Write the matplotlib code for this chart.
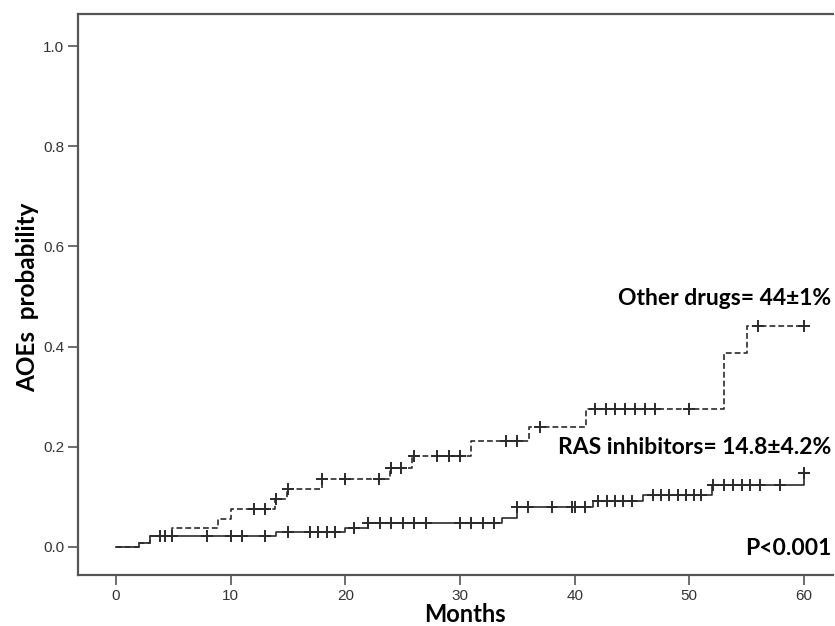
import numpy as np
import matplotlib
matplotlib.use("Agg")
import matplotlib.pyplot as plt

# ---- data ----
# RAS inhibitors (solid): step times and cumulative probability after each step
ras_times = [0, 2, 3, 14, 20, 22, 33.7, 35, 41.6, 46, 52, 60]
ras_prob  = [0.0, 0.007, 0.022, 0.030, 0.038, 0.048, 0.058, 0.080, 0.092, 0.104, 0.124, 0.148]
ras_censor = [3.8, 4.3, 4.9, 7.9, 10, 11, 13, 15, 16.9, 17.6, 18.4, 19.1, 20.8,
              22, 23, 24, 25, 26, 27, 30, 31, 32, 33, 35, 35.9, 38, 39.8, 40, 40.9,
              42, 42.8, 43.5, 44.2, 45, 46.8, 47.5, 48.2, 49, 49.7, 50.4, 51,
              52.1, 53, 53.8, 54.6, 55.3, 56.2, 57.9, 60]

# Other drugs (dashed)
oth_times = [0, 2, 3, 4.9, 8.9, 10, 13.9, 14.9, 18, 23.9, 25.8, 31, 36, 41, 53, 55, 60]
oth_prob  = [0.0, 0.007, 0.022, 0.038, 0.056, 0.076, 0.096, 0.116, 0.136, 0.158,
             0.182, 0.211, 0.240, 0.275, 0.387, 0.441, 0.441]
oth_censor = [12, 13, 14, 15, 18, 20, 22.9, 24, 24.9, 26, 28, 29, 30, 34, 35, 37,
              41.8, 42.7, 43.5, 44.4, 45.3, 46.1, 47, 50, 56, 60]

xticks = [0, 10, 20, 30, 40, 50, 60]
yticks = [0.0, 0.2, 0.4, 0.6, 0.8, 1.0]

label_other = "Other drugs= 44\u00b11%"
label_ras = "RAS inhibitors= 14.8\u00b14.2%"
label_p = "P<0.001"


def step_value(times, probs, t):
    idx = np.searchsorted(times, t, side="right") - 1
    return np.asarray(probs)[idx]


fig = plt.figure(figsize=(8.35, 6.26), dpi=100)
ax = fig.add_axes([78 / 835, 51 / 626, 755 / 835, 561 / 626])

lc = "#2b2b2b"
ax.step(ras_times, ras_prob, where="post", color=lc, lw=1.2)
ax.step(oth_times, oth_prob, where="post", color=lc, lw=1.2, dashes=(3.5, 1.8))

ax.plot(ras_censor, step_value(ras_times, ras_prob, ras_censor), ls="none",
        marker="+", ms=9, mew=1.4, color=lc)
ax.plot(oth_censor, step_value(oth_times, oth_prob, oth_censor), ls="none",
        marker="+", ms=9, mew=1.4, color=lc)

ax.set_xlim(-3.31, 62.53)
ax.set_ylim(-0.056, 1.064)
ax.set_xticks(xticks)
ax.set_xticklabels([str(v) for v in xticks])
ax.set_yticks(yticks)
ax.set_yticklabels([f"{v:.1f}" for v in yticks])

for s in ["left", "bottom", "top"]:
    ax.spines[s].set_color("#555555")
    ax.spines[s].set_linewidth(1.6)
ax.spines["right"].set_visible(False)
ax.tick_params(direction="out", length=7, width=1.2, color="#555555",
               labelsize=11, labelcolor="#333333", pad=3)
for lab in ax.get_xticklabels() + ax.get_yticklabels():
    lab.set_family("Liberation Sans")

tf = dict(family="Lato", weight="bold", color="black")
ax.set_xlabel("Months", fontsize=17, **tf)
ax.set_ylabel("AOEs  probability", fontsize=17.5, **tf)
ax.xaxis.set_label_coords((465 - 78) / 755, (575 - 603) / 561)
ax.yaxis.set_label_coords((39 - 78) / 755, (575 - 297) / 561)

ax.text(62.4, 0.497, label_other, ha="right", va="center", fontsize=16.5, **tf)
ax.text(62.4, 0.198, label_ras, ha="right", va="center", fontsize=16.5, **tf)
ax.text(62.4, -0.004, label_p, ha="right", va="center", fontsize=16.5, **tf)

fig.savefig("out.png", dpi=100)
